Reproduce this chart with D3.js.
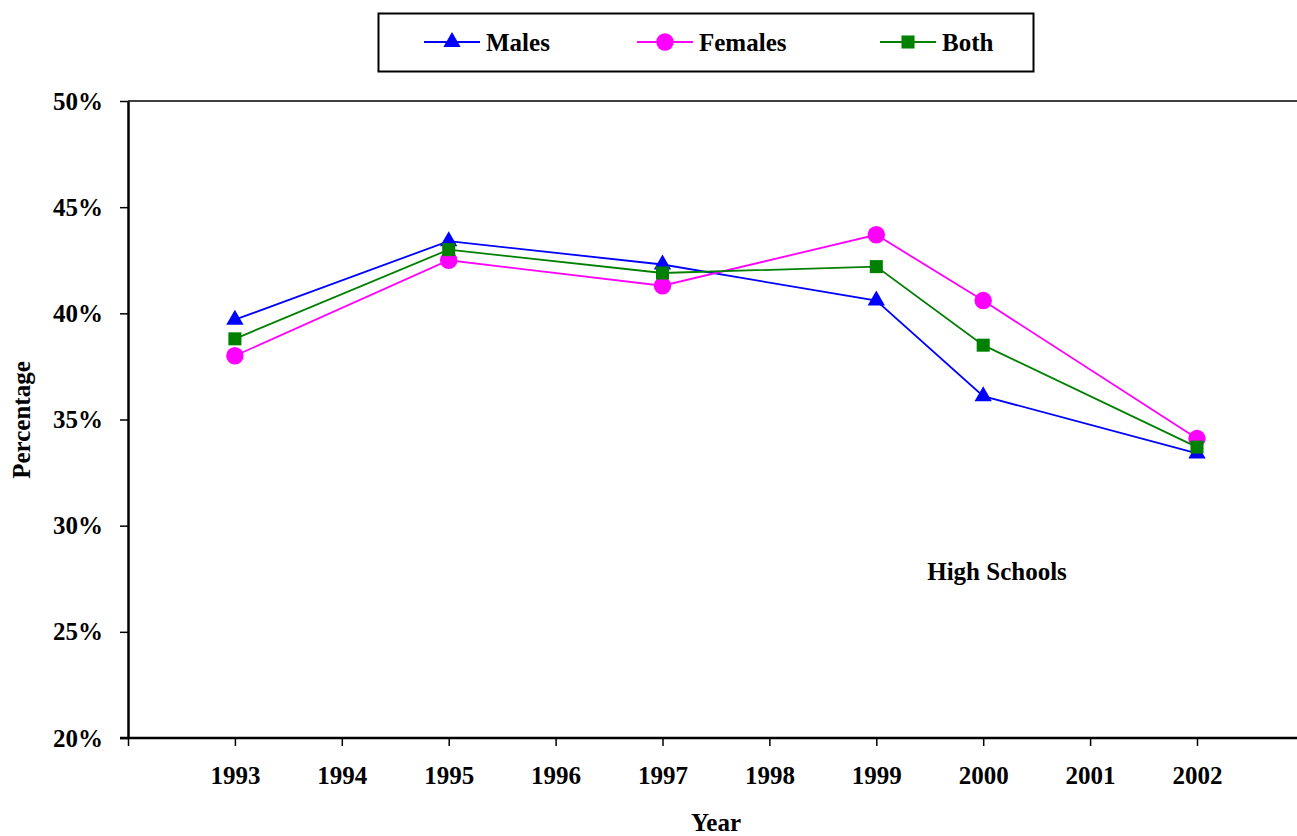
<!DOCTYPE html>
<html>
<head>
<meta charset="utf-8">
<script src="https://cdn.jsdelivr.net/npm/d3@7"></script>
<style>
  body { margin: 0; background: #fff; }
  text { font-family: "Liberation Serif", "Times New Roman", serif; font-weight: bold; }
</style>
</head>
<body>
<script>
// values (fractions)
const years = [1993, 1995, 1997, 1999, 2000, 2002];
const males = [0.397, 0.434, 0.423, 0.406, 0.361, 0.334];
const females = [0.380, 0.425, 0.413, 0.437, 0.406, 0.341];
const both = [0.388, 0.430, 0.419, 0.422, 0.385, 0.337];
const tickYears = [1993, 1994, 1995, 1996, 1997, 1998, 1999, 2000, 2001, 2002];
const yTicks = [0.20, 0.25, 0.30, 0.35, 0.40, 0.45, 0.50];

const series = [
    { name: "Males", values: males, color: "#0000ff", shape: d3.symbolTriangle, size: 130 },
    { name: "Females", values: females, color: "#ff00ff", shape: d3.symbolCircle, size: 240 },
    { name: "Both", values: both, color: "#008000", shape: d3.symbolSquare, size: 170 }
];

const width = 1297, height = 836;
const plotLeft = 128, plotTop = 101, plotBottom = 738;

const svg = d3.select("body")
    .append("svg")
    .attr("width", width)
    .attr("height", height);

const x = d3.scaleLinear().domain([1992, 2003]).range([plotLeft, plotLeft + 11 * 106.9]);
const y = d3.scaleLinear().domain([0.2, 0.5]).range([plotBottom, plotTop]);

// top border of plot area
svg.append("line")
    .attr("x1", plotLeft).attr("x2", width)
    .attr("y1", plotTop).attr("y2", plotTop)
    .attr("stroke", "#000").attr("stroke-width", 1.5);

// Y axis
const yAxis = svg.append("g")
    .attr("transform", "translate(" + plotLeft + ",0)")
    .call(d3.axisLeft(y).tickValues(yTicks).tickFormat(d3.format(".0%")).tickSize(8).tickPadding(17).tickSizeOuter(0));
yAxis.select(".domain").attr("stroke-width", 2.5);
yAxis.selectAll(".tick line").attr("stroke-width", 1.5);
yAxis.selectAll("text").attr("font-size", 25).attr("fill", "#000");

// X axis
const xAxis = svg.append("g")
    .attr("transform", "translate(0," + plotBottom + ")")
    .call(d3.axisBottom(x).tickValues([1992].concat(tickYears)).tickFormat(d => d === 1992 ? "" : d).tickSize(8).tickPadding(20).tickSizeOuter(0));
xAxis.select(".domain").attr("d", "M" + (plotLeft - 8) + ",0H" + width).attr("stroke-width", 2.5);
xAxis.selectAll(".tick line").attr("stroke-width", 1.5);
xAxis.selectAll("text").attr("font-size", 25).attr("fill", "#000");

// axis titles
svg.append("text")
    .attr("transform", "translate(30," + 420 + ") rotate(-90)")
    .attr("text-anchor", "middle")
    .attr("font-size", 25)
    .text("Percentage");

svg.append("text")
    .attr("x", 716).attr("y", 831)
    .attr("text-anchor", "middle")
    .attr("font-size", 25)
    .text("Year");

svg.append("text")
    .attr("x", 997).attr("y", 580)
    .attr("text-anchor", "middle")
    .attr("font-size", 25)
    .text("High Schools");

// lines and markers
const line = d3.line()
    .x((d, i) => x(years[i]))
    .y(d => y(d));

series.forEach(s => {
    svg.append("path")
        .datum(s.values)
        .attr("fill", "none")
        .attr("stroke", s.color)
        .attr("stroke-width", 1.8)
        .attr("d", line);

    svg.selectAll(".m-" + s.name)
        .data(s.values)
        .enter().append("path")
        .attr("class", "m-" + s.name)
        .attr("transform", (d, i) => "translate(" + x(years[i]) + "," + y(d) + ")")
        .attr("d", d3.symbol().type(s.shape).size(s.size))
        .attr("fill", s.color);
});

// legend
const legend = svg.append("g");
legend.append("rect")
    .attr("x", 378.5).attr("y", 13.5)
    .attr("width", 655).attr("height", 58)
    .attr("fill", "#fff").attr("stroke", "#000").attr("stroke-width", 2);

const legendX = [424, 637, 880];
series.forEach((s, i) => {
    const g = legend.append("g").attr("transform", "translate(" + legendX[i] + ",42)");
    g.append("line").attr("x1", 0).attr("x2", 56).attr("stroke", s.color).attr("stroke-width", 1.8);
    g.append("path")
        .attr("transform", "translate(28,0)")
        .attr("d", d3.symbol().type(s.shape).size(s.size))
        .attr("fill", s.color);
    g.append("text")
        .attr("x", 62).attr("y", 9)
        .attr("font-size", 25)
        .text(s.name);
});
</script>
</body>
</html>
